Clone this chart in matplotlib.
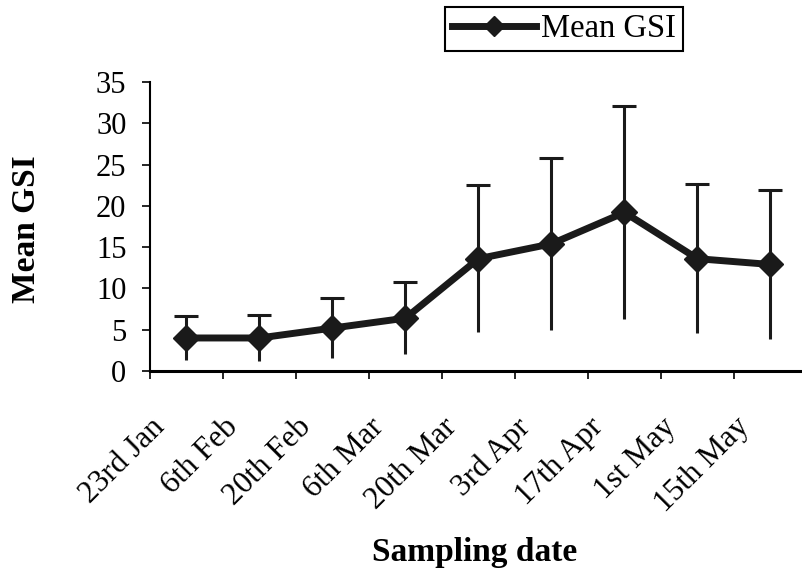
import matplotlib
matplotlib.use("Agg")
import matplotlib.pyplot as plt
import matplotlib.transforms as mtransforms
import numpy as np

dates = ["23rd Jan", "6th Feb", "20th Feb", "6th Mar", "20th Mar",
         "3rd Apr", "17th Apr", "1st May", "15th May"]
mean_gsi = [4.0, 4.0, 5.2, 6.4, 13.6, 15.4, 19.2, 13.6, 12.9]
gsi_err = [2.7, 2.8, 3.6, 4.4, 8.9, 10.4, 12.9, 9.0, 9.0]

plt.rcParams['font.family'] = ['Liberation Serif', 'DejaVu Serif']

fig = plt.figure(figsize=(8.03, 5.8), dpi=100)
ax = fig.add_axes([150 / 803, 209 / 580, 657 / 803, 289 / 580])

x = np.arange(len(dates))
err = np.array(gsi_err)

# upper error bars with caps, lower ones without caps
up = ax.errorbar(x, mean_gsi, yerr=[np.zeros_like(err), err], fmt='none',
                 ecolor='#1a1a1a', elinewidth=2.2, capsize=8.5, capthick=2.2, zorder=2)
up[1][0].set_visible(False)
ax.errorbar(x, mean_gsi, yerr=[err, np.zeros_like(err)], fmt='none',
            ecolor='#1a1a1a', elinewidth=2.2, capsize=0, zorder=2)

line, = ax.plot(x, mean_gsi, color='#1a1a1a', lw=5, marker='D', markersize=13,
                label='Mean GSI', zorder=3)

ax.set_xlim(-0.5, len(dates) - 0.5)
ax.set_ylim(0, 35)
ax.set_yticks(range(0, 36, 5))

ax.set_xticks(x)
ax.set_xticklabels(dates, rotation=45, ha='right', va='top', rotation_mode='anchor', fontsize=22.5)
ax.set_xticks(np.arange(-0.5, len(dates), 1), minor=True)
ax.tick_params(axis='x', which='major', length=0, pad=30)
ax.tick_params(axis='x', which='minor', length=6, width=1.2, direction='out')
ax.tick_params(axis='y', length=6, width=1.2, direction='out', labelsize=22, pad=11)

offset = mtransforms.ScaledTranslation(-0.36, 0, fig.dpi_scale_trans)
for lab in ax.get_xticklabels():
    lab.set_transform(lab.get_transform() + offset)

for s in ['top', 'right']:
    ax.spines[s].set_visible(False)
ax.spines['left'].set_linewidth(1.5)
ax.spines['bottom'].set_linewidth(2.2)

ax.set_ylabel('Mean GSI', fontsize=24, fontweight='bold')
ax.yaxis.set_label_coords(-0.165, 0.491)
fig.text(475 / 803, 1 - 553 / 580, 'Sampling date', fontsize=24,
         fontweight='bold', ha='center', va='center')

leg = fig.legend(handles=[line], loc='upper left', bbox_to_anchor=(445 / 803, 1 - 7 / 580),
                 fontsize=23.5, handlelength=2.6, handletextpad=0.15, borderpad=0.2,
                 borderaxespad=0, markerscale=0.75,
                 fancybox=False, framealpha=1, edgecolor='black')
leg.get_frame().set_linewidth(1.5)

fig.savefig('out.png', dpi=100)
